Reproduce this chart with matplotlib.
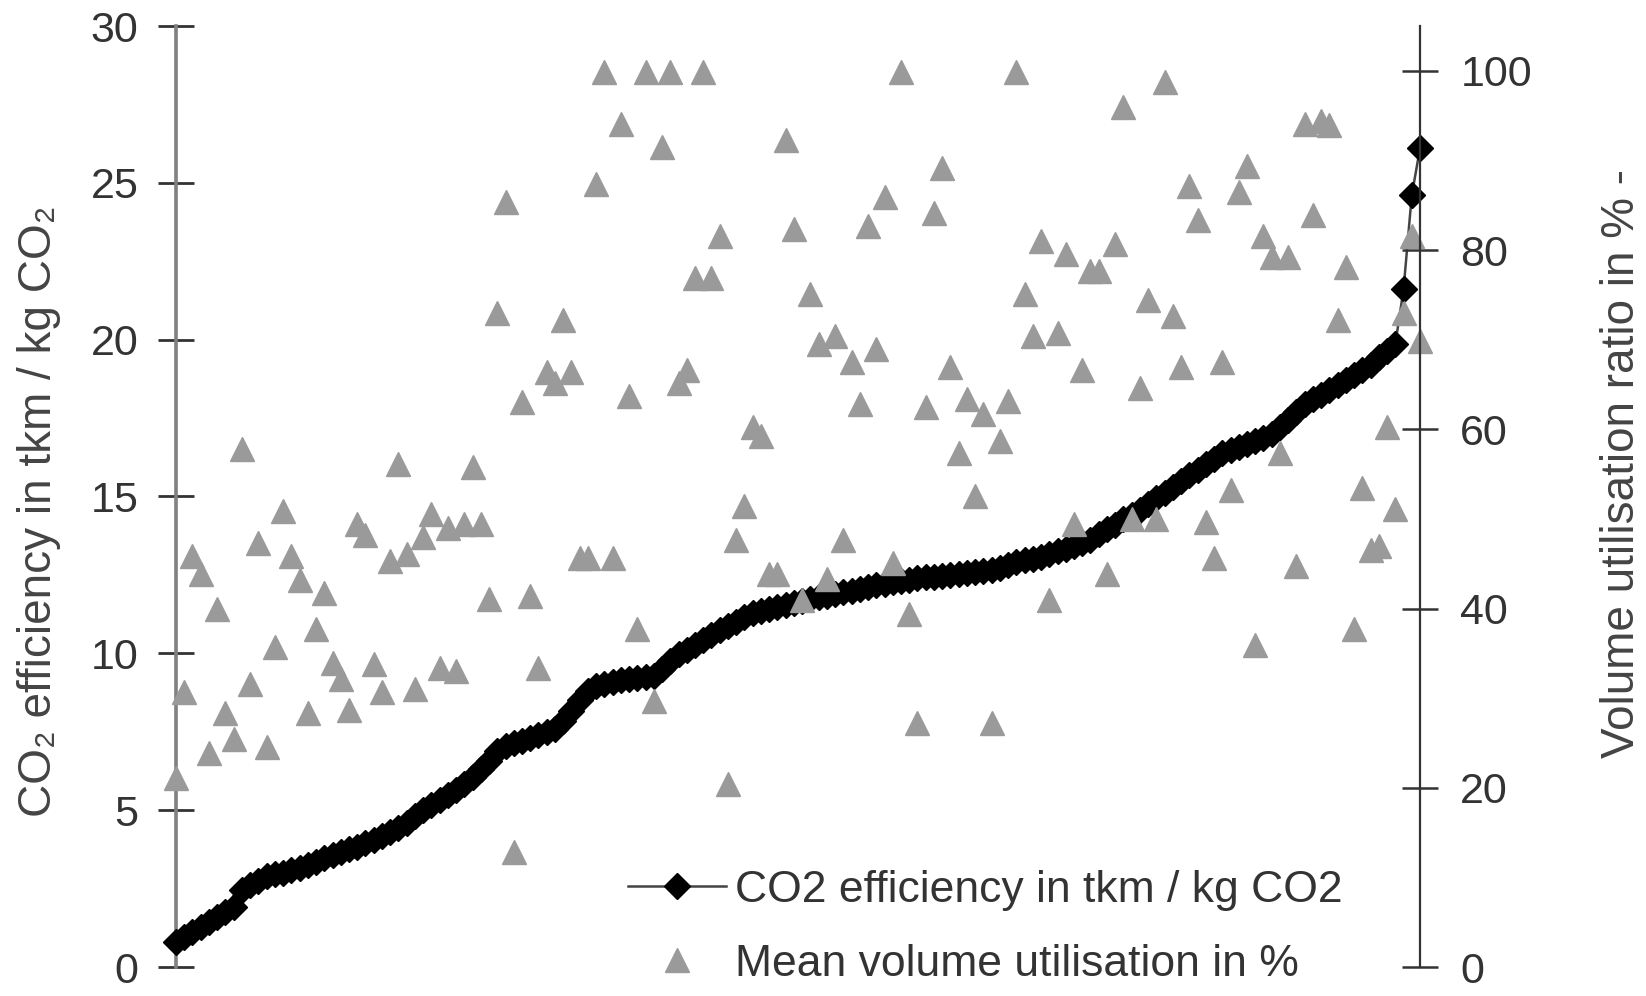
import matplotlib
matplotlib.use("Agg")
import matplotlib.pyplot as plt
import numpy as np

# CO2 efficiency (tkm / kg CO2), sorted ascending, one per transport case
efficiency = [
    0.80, 0.95, 1.10, 1.27, 1.44, 1.60, 1.75, 1.90, 2.45, 2.60,
    2.75, 2.90, 2.95, 3.00, 3.08, 3.15, 3.25, 3.36, 3.46, 3.57,
    3.66, 3.75, 3.84, 3.94, 4.06, 4.18, 4.31, 4.44, 4.60, 4.80,
    5.00, 5.17, 5.33, 5.49, 5.65, 5.82, 6.05, 6.30, 6.57, 6.90,
    7.05, 7.13, 7.22, 7.30, 7.39, 7.48, 7.60, 7.85, 8.15, 8.50,
    8.80, 8.95, 9.03, 9.10, 9.15, 9.18, 9.20, 9.23, 9.28, 9.50,
    9.75, 9.97, 10.12, 10.27, 10.42, 10.58, 10.74, 10.88, 11.01, 11.15,
    11.28, 11.34, 11.40, 11.47, 11.53, 11.59, 11.66, 11.72, 11.79, 11.84,
    11.89, 11.94, 11.99, 12.05, 12.11, 12.17, 12.22, 12.27, 12.31, 12.35,
    12.39, 12.42, 12.44, 12.47, 12.49, 12.52, 12.56, 12.60, 12.64, 12.67,
    12.73, 12.82, 12.90, 12.96, 13.01, 13.08, 13.17, 13.26, 13.34, 13.43,
    13.52, 13.62, 13.80, 13.95, 14.10, 14.27, 14.42, 14.57, 14.75, 14.95,
    15.12, 15.30, 15.48, 15.67, 15.85, 16.03, 16.20, 16.38, 16.48, 16.58,
    16.68, 16.78, 16.88, 16.98, 17.20, 17.45, 17.70, 17.95, 18.10, 18.25,
    18.40, 18.55, 18.70, 18.87, 19.03, 19.20, 19.45, 19.65, 19.85, 21.60,
    24.60, 26.10,
]

# Mean volume utilisation in % for the same cases
utilisation = [
    21.1, 30.7, 45.9, 43.8, 23.9, 40.0, 28.3, 25.4, 57.8, 31.6,
    47.3, 24.6, 35.7, 50.9, 45.9, 43.2, 28.3, 37.7, 41.7, 33.9,
    32.1, 28.7, 49.4, 48.2, 33.8, 30.7, 45.3, 56.1, 46.1, 31.0,
    48.0, 50.6, 33.4, 49.0, 33.0, 49.4, 55.8, 49.4, 41.1, 73.0,
    85.4, 12.8, 63.1, 41.4, 33.4, 66.4, 65.2, 72.2, 66.4, 45.6,
    45.6, 87.4, 99.9, 45.6, 94.1, 63.7, 37.7, 99.9, 29.7, 91.5,
    99.9, 65.2, 66.6, 76.9, 99.9, 76.9, 81.6, 20.4, 47.6, 51.4,
    60.2, 59.3, 43.8, 43.8, 92.3, 82.4, 41.0, 75.1, 69.5, 43.3,
    70.4, 47.6, 67.5, 62.8, 82.7, 69.0, 85.9, 45.1, 99.9, 39.4,
    27.2, 62.5, 84.1, 89.2, 66.9, 57.3, 63.4, 52.5, 61.7, 27.2,
    58.7, 63.2, 99.9, 75.1, 70.4, 81.0, 41.0, 70.7, 79.6, 49.4,
    66.6, 77.7, 77.7, 43.8, 80.7, 96.0, 50.0, 64.6, 74.4, 50.0,
    98.8, 72.6, 66.9, 87.1, 83.3, 49.6, 45.6, 67.5, 53.2, 86.5,
    89.4, 35.9, 81.6, 79.2, 57.3, 79.2, 44.7, 94.1, 83.9, 94.4,
    93.9, 72.2, 78.1, 37.7, 53.5, 46.5, 47.0, 60.2, 51.1, 73.0,
    81.6, 69.9,
]

left_ticks = [0, 5, 10, 15, 20, 25, 30]
right_ticks = [0, 20, 40, 60, 80, 100]
label_eff = "CO2 efficiency in tkm / kg CO2"
label_util = "Mean volume utilisation in %"
ylabel_left = "CO\u2082 efficiency in tkm / kg CO\u2082"
ylabel_right = "Volume utilisation ratio in % -"

plt.rcParams['font.family'] = ['Liberation Sans', 'DejaVu Sans']

W, H = 1646, 996
fig = plt.figure(figsize=(W / 100, H / 100), dpi=100)
fig.patch.set_facecolor('white')
x0, x1, ytop, ybot = 176, 1420, 26, 967
ax = fig.add_axes([x0 / W, 1 - ybot / H, (x1 - x0) / W, (ybot - ytop) / H])
ax2 = ax.twinx()

x = np.arange(len(efficiency))
xu = np.arange(len(utilisation))

# thick black band of overlapping diamonds
ax.plot(x[:-3], efficiency[:-3], color='black', lw=9, solid_capstyle='round',
        zorder=2, clip_on=False)
l1, = ax.plot(x, efficiency, color='#444444', lw=1.8, marker='D', ms=13,
              mfc='black', mec='black', clip_on=False, label=label_eff, zorder=3)
l2, = ax2.plot(xu, utilisation, ls='none', marker='^', ms=17.5,
               color='#9a9a9a', mec='#9a9a9a', clip_on=False, label=label_util)

ax.set_xlim(0, len(efficiency) - 1)
ax.set_ylim(0, 30)
ax2.set_ylim(0, 105)
ax.set_yticks(left_ticks)
ax2.set_yticks(right_ticks)
ax.set_xticks([])
ax2.set_xticks([])

for s in ['top', 'bottom', 'right']:
    ax.spines[s].set_visible(False)
for s in ['top', 'bottom', 'left']:
    ax2.spines[s].set_visible(False)
ax.spines['left'].set_color('#808080')
ax.spines['left'].set_linewidth(2.6)
ax2.spines['right'].set_color('#333333')
ax2.spines['right'].set_linewidth(1.6)

ax.tick_params(axis='y', direction='inout', length=26, width=2.0,
               color='#333333', labelsize=31, labelcolor='#333333', pad=14)
ax2.tick_params(axis='y', direction='inout', length=26, width=1.8,
                color='#333333', labelsize=31, labelcolor='#333333', pad=16)
ax.patch.set_visible(False)

fig.text(39 / W, 1 - 511 / H, ylabel_left, rotation=90, ha='center', va='center',
         fontsize=33, color='#444444')
fig.text(1622 / W, 1 - 463 / H, ylabel_right, rotation=90, ha='center', va='center',
         fontsize=33, color='#444444')

leg = ax2.legend([l1, l2], [label_eff, label_util], loc='lower left',
                 bbox_to_anchor=(628 / W, 1 - 985 / H), bbox_transform=fig.transFigure,
                 frameon=False, fontsize=32, handlelength=2.2, handletextpad=0.2,
                 borderpad=0, borderaxespad=0, labelspacing=0.75)
for t in leg.get_texts():
    t.set_color('#333333')

fig.savefig('out.png', dpi=100, facecolor='white')
